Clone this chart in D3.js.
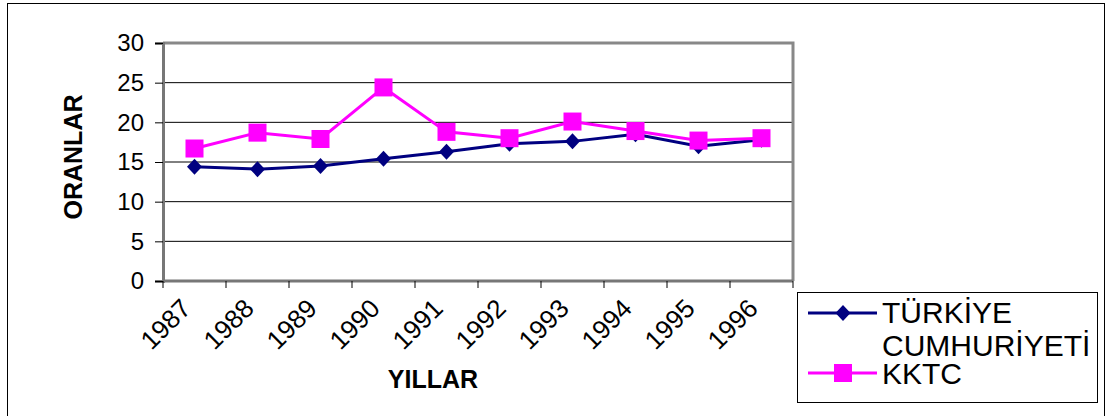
<!DOCTYPE html>
<html>
<head>
<meta charset="utf-8">
<script src="https://cdn.jsdelivr.net/npm/d3@7"></script>
<style>
  body { margin: 0; background: #fff; }
  svg { font-family: Arial, "Liberation Sans", sans-serif; display: block; }
</style>
</head>
<body>
<svg id="chart" width="1106" height="416"></svg>
<script>
// data
var years = ["1987", "1988", "1989", "1990", "1991", "1992", "1993", "1994", "1995", "1996"];
var turkiye = [14.4, 14.1, 14.5, 15.4, 16.3, 17.3, 17.6, 18.5, 17.0, 17.8];
var kktc = [16.7, 18.7, 17.9, 24.4, 18.8, 18.0, 20.1, 18.9, 17.7, 18.0];
var yTicks = [0, 5, 10, 15, 20, 25, 30];

var svg = d3.select("#chart");

// outer frame
svg.append("rect")
    .attr("x", 7.5).attr("y", 3.5)
    .attr("width", 1097).attr("height", 420)
    .attr("fill", "none")
    .attr("stroke", "#000")
    .attr("stroke-width", 1);

var margin = {top: 43, left: 163},
    width = 630,
    height = 238;

var g = svg.append("g").attr("transform", "translate(" + margin.left + "," + margin.top + ")");

var x = d3.scaleBand().domain(years).range([0, width]);
var y = d3.scaleLinear().domain([0, 30]).range([height, 0]);

// grid lines
g.selectAll(".grid")
    .data(yTicks.filter(function(d){ return d > 0 && d < 30; }))
  .enter().append("line")
    .attr("x1", 0).attr("x2", width)
    .attr("y1", function(d){ return y(d); })
    .attr("y2", function(d){ return y(d); })
    .attr("stroke", "#000")
    .attr("stroke-width", 1);

// grey border top & right
g.append("path")
    .attr("d", "M0," + y(30) + "H" + width + "V" + height)
    .attr("fill", "none")
    .attr("stroke", "#888")
    .attr("stroke-width", 3);

// y axis
var yAxis = g.append("g")
    .call(d3.axisLeft(y).tickValues(yTicks).tickSize(8).tickPadding(11));
yAxis.select(".domain").attr("stroke", "#777").attr("stroke-width", 3);
yAxis.selectAll(".tick line").attr("stroke", "#000");
yAxis.selectAll("text")
    .attr("font-size", 24)
    .attr("font-family", "Arial, 'Liberation Sans', sans-serif")
    .attr("fill", "#000");

// x axis, ticks at category boundaries
var xAxis = g.append("g")
    .attr("transform", "translate(0," + height + ")");
xAxis.append("line")
    .attr("x1", 0).attr("x2", width)
    .attr("stroke", "#777").attr("stroke-width", 3);
var bounds = years.map(function(d){ return x(d); }).concat([width]);
xAxis.selectAll(".xt")
    .data(bounds)
  .enter().append("line")
    .attr("x1", function(d){ return d; })
    .attr("x2", function(d){ return d; })
    .attr("y1", 0).attr("y2", 7)
    .attr("stroke", "#000");
xAxis.selectAll(".xl")
    .data(years)
  .enter().append("text")
    .attr("transform", function(d){
      var cx = x(d) + x.bandwidth() / 2;
      return "translate(" + (cx - 2) + ",29) rotate(-45)";
    })
    .attr("text-anchor", "end")
    .attr("font-size", 26)
    .attr("fill", "#000")
    .text(function(d){ return d; });

// lines
var line = d3.line()
    .x(function(d, i){ return x(years[i]) + x.bandwidth() / 2; })
    .y(function(d){ return y(d); });

g.append("path")
    .datum(turkiye)
    .attr("fill", "none")
    .attr("stroke", "#000080")
    .attr("stroke-width", 3)
    .attr("d", line);

g.append("path")
    .datum(kktc)
    .attr("fill", "none")
    .attr("stroke", "#FF00FF")
    .attr("stroke-width", 3)
    .attr("d", line);

var diamond = "M0,-8L7.5,0L0,8L-7.5,0Z";

g.selectAll(".tr")
    .data(turkiye)
  .enter().append("path")
    .attr("transform", function(d, i){
      return "translate(" + (x(years[i]) + x.bandwidth() / 2) + "," + y(d) + ")";
    })
    .attr("d", diamond)
    .attr("fill", "#000080");

g.selectAll(".kk")
    .data(kktc)
  .enter().append("rect")
    .attr("x", function(d, i){ return x(years[i]) + x.bandwidth() / 2 - 9; })
    .attr("y", function(d){ return y(d) - 9; })
    .attr("width", 18).attr("height", 18)
    .attr("fill", "#FF00FF");

// axis titles
svg.append("text")
    .attr("transform", "translate(82,157) rotate(-90)")
    .attr("text-anchor", "middle")
    .attr("font-size", 25)
    .attr("font-weight", "bold")
    .text("ORANLAR");

svg.append("text")
    .attr("x", 433).attr("y", 388)
    .attr("text-anchor", "middle")
    .attr("font-size", 25)
    .attr("font-weight", "bold")
    .text("YILLAR");

// legend
var lg = svg.append("g");
lg.append("rect")
    .attr("x", 797.5).attr("y", 292.5)
    .attr("width", 300).attr("height", 110)
    .attr("fill", "#fff")
    .attr("stroke", "#000");

lg.append("line")
    .attr("x1", 808).attr("x2", 877).attr("y1", 313).attr("y2", 313)
    .attr("stroke", "#000080").attr("stroke-width", 3);
lg.append("path")
    .attr("transform", "translate(843,313)")
    .attr("d", diamond)
    .attr("fill", "#000080");
lg.append("text")
    .attr("x", 882).attr("y", 323)
    .attr("font-size", 30)
    .text("TÜRKİYE");
lg.append("text")
    .attr("x", 882).attr("y", 356)
    .attr("font-size", 30)
    .text("CUMHURİYETİ");

lg.append("line")
    .attr("x1", 808).attr("x2", 877).attr("y1", 373).attr("y2", 373)
    .attr("stroke", "#FF00FF").attr("stroke-width", 3);
lg.append("rect")
    .attr("x", 834).attr("y", 364)
    .attr("width", 18).attr("height", 18)
    .attr("fill", "#FF00FF");
lg.append("text")
    .attr("x", 882).attr("y", 384)
    .attr("font-size", 30)
    .text("KKTC");
</script>
</body>
</html>
